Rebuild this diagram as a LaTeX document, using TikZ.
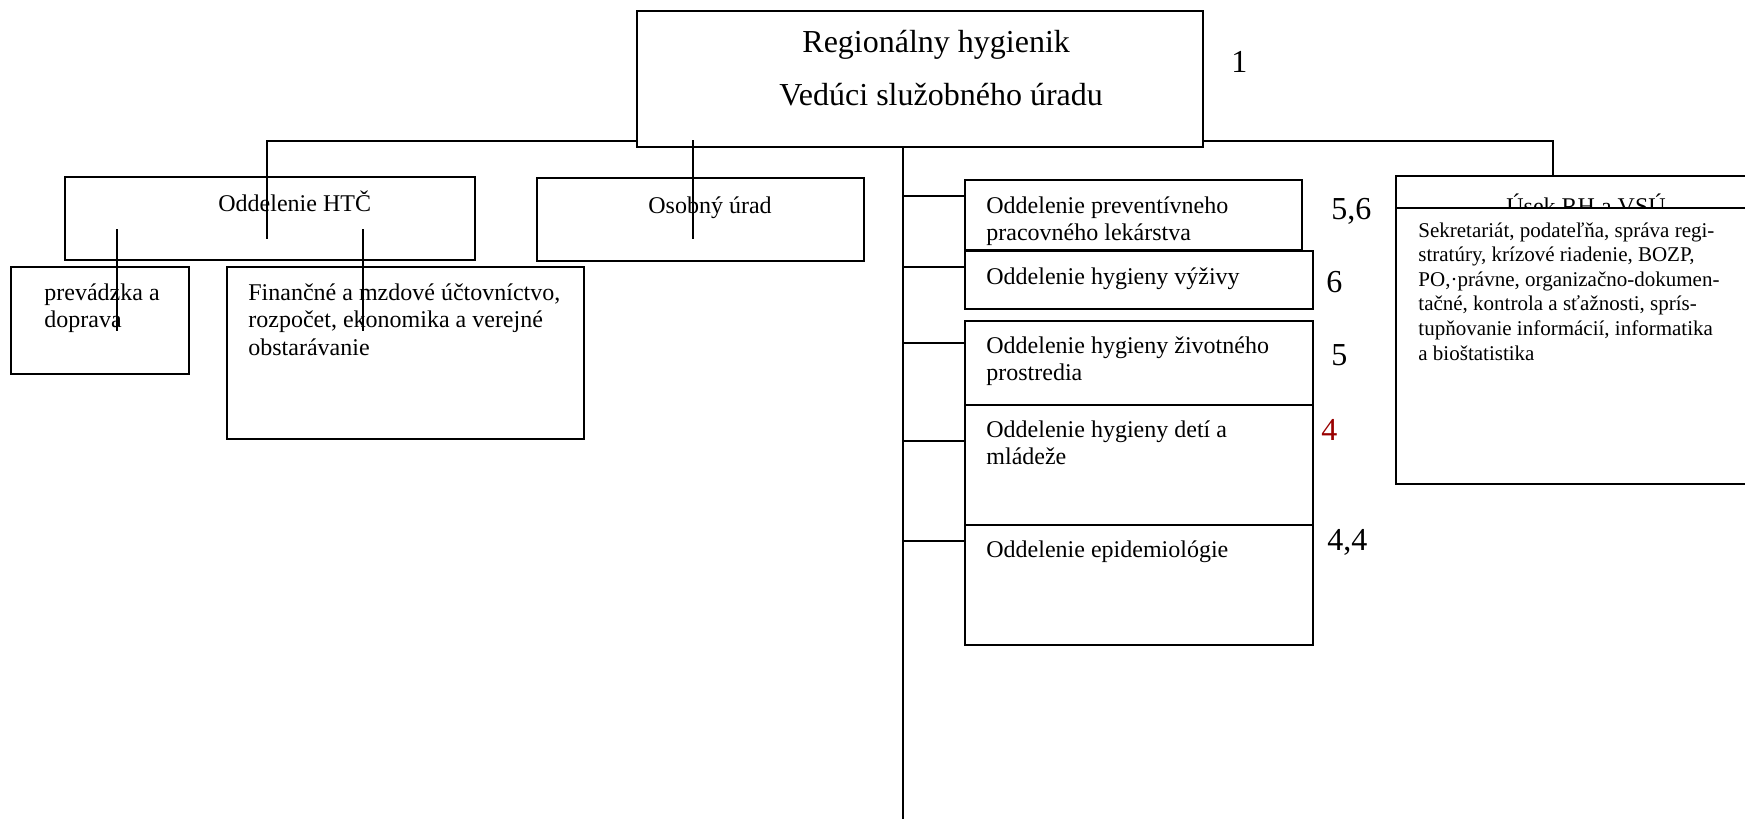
\documentclass[tikz,border=0pt]{standalone}
\usepackage{fontspec}
\setmainfont{Liberation Serif}
\usetikzlibrary{fit}
\definecolor{numred}{RGB}{153,0,0}
\begin{document}
\begin{tikzpicture}[x=0.5pt,y=-0.5pt,
  box/.style={draw, line width=0.9pt, inner sep=0pt, outer sep=0pt},
  conn/.style={line width=0.75pt},
  tbig/.style={font=\fontsize{16}{19}\selectfont, inner sep=0pt, anchor=base west},
  tmid/.style={font=\fontsize{12}{13.8}\selectfont, inner sep=0pt, anchor=base west, align=left},
  tsmall/.style={font=\fontsize{10.5}{12.3}\selectfont, inner sep=0pt, anchor=base west, align=left},
  num/.style={font=\fontsize{16}{19}\selectfont, inner sep=0pt, anchor=base west}
]
\useasboundingbox (0,0) rectangle (1745,819);
\clip (0,0) rectangle (1745,819);

% boxes
\node[box, fit={(637,11) (1203,147)}] (top) {};
\node[box, fit={(65,177) (475,260)}] (htc) {};
\node[box, fit={(537,178) (864,261)}] (osob) {};
\node[box, fit={(11,267) (189,374)}] (prev) {};
\node[box, fit={(227,267) (584,439)}] (fin) {};
\node[box, fit={(965,180) (1302,250)}] (ppl) {};
\node[box, fit={(965,251) (1313,309)}] (hv) {};
\node[box, fit={(965,321) (1313,405)}] (hzp) {};
\node[box, fit={(965,405) (1313,525)}] (hdm) {};
\node[box, fit={(965,525) (1313,645)}] (epi) {};
\node[box, fit={(1396,176) (1760,208)}] (usekh) {};
\node[tmid] (usekt) at (1506,214) {Úsek RH a VSÚ};
\node[box, fill=white, fit={(1396,208) (1760,484)}] (usekc) {};

% texts (multi-line nodes are placed by the baseline of their last line)
\node[tbig] (t1) at (802,52) {Regionálny hygienik};
\node[tbig] (t2) at (779,105) {Vedúci služobného úradu};
\node[num] (n1) at (1231,72) {1};
\node[tmid] (thtc) at (218,211) {Oddelenie HTČ};
\node[tmid] (tosob) at (648,213) {Osobný úrad};
\node[tmid] (tprev) at (44,327.6) {prevádzka a\\doprava};
\node[tmid] (tfin) at (248,355.2) {Finančné a mzdové účtovníctvo,\\rozpočet, ekonomika a verejné\\obstarávanie};
\node[tmid] (tppl) at (986,240.6) {Oddelenie preventívneho\\pracovného lekárstva};
\node[tmid] (thv) at (986,284) {Oddelenie hygieny výživy};
\node[tmid] (thzp) at (986,380.6) {Oddelenie hygieny životného\\prostredia};
\node[tmid] (thdm) at (986,464.6) {Oddelenie hygieny detí a\\mládeže};
\node[tmid] (tepi) at (986,557) {Oddelenie epidemiológie};
\node[tsmall] (tusek) at (1418,360) {Sekretariát, podateľňa, správa regi-\\stratúry, krízové riadenie, BOZP,\\PO,·právne, organizačno-dokumen-\\tačné, kontrola a sťažnosti, sprís-\\tupňovanie informácií, informatika\\a bioštatistika};

\node[num] (n56) at (1331,219) {5,6};
\node[num] (n6) at (1326,292) {6};
\node[num] (n5) at (1331,365) {5};
\node[num, text=numred] (n4) at (1321,440) {4};
\node[num] (n44) at (1327,550) {4,4};

% connectors
\coordinate (jl) at (267,141);
\coordinate (jlend) at (267,239);
\draw[conn] (top.west |- jl) -- (jl) -- (jlend);
\coordinate (os1) at (693,140);
\coordinate (os2) at (693,239);
\draw[conn] (os1) -- (os2);
\coordinate (jr) at (1553,141);
\draw[conn] (top.east |- jr) -- (jr) -- (jr |- usekh.north);
\coordinate (p1) at (117,229);
\coordinate (p2) at (117,331);
\draw[conn] (p1) -- (p2);
\coordinate (f1) at (363,229);
\coordinate (f2) at (363,331);
\draw[conn] (f1) -- (f2);
\coordinate (trunk) at (903,819);
\draw[conn] (trunk |- top.south) -- (trunk);
\draw[conn] (trunk |- 0,196) -- (ppl.west |- 0,196);
\draw[conn] (trunk |- 0,267) -- (hv.west |- 0,267);
\draw[conn] (trunk |- 0,343) -- (hzp.west |- 0,343);
\draw[conn] (trunk |- 0,441) -- (hdm.west |- 0,441);
\draw[conn] (trunk |- 0,541) -- (epi.west |- 0,541);
\end{tikzpicture}
\end{document}
